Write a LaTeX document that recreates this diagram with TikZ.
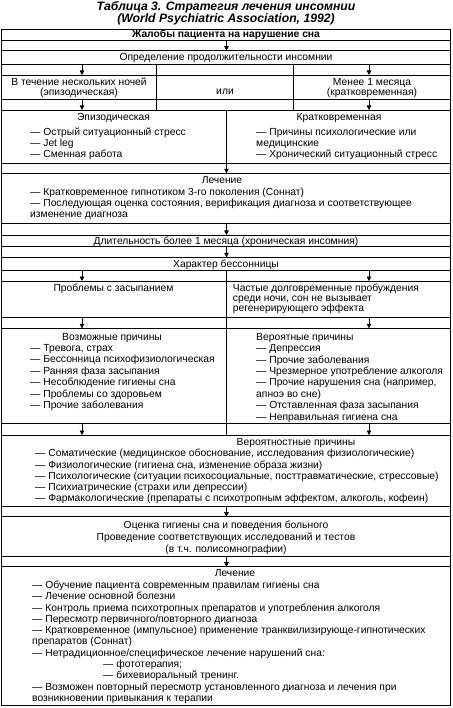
\documentclass[tikz,border=0pt]{standalone}
\usepackage{fontspec}
\setmainfont{Liberation Sans}
\usetikzlibrary{arrows.meta}
\newcommand{\fs}{10.3}
\newcommand{\tf}{\fontsize{\fs}{11.3}\selectfont}
\newcommand{\fr}{\rule{0pt}{8pt}}
\begin{document}
\begin{tikzpicture}[x=1pt,y=-1pt,
  tl/.style={line width=0.8pt,black},
  arr/.style={line width=0.7pt,-{Triangle[length=4.5pt,width=4.5pt]}},
  ct/.style={inner sep=0pt,anchor=base,font=\tf},
  blk/.style={inner sep=0pt,anchor=north west,align=left,font=\tf},
  cblk/.style={inner sep=0pt,anchor=north,align=center,font=\tf}]
\useasboundingbox (0,0) rectangle (452,708);
\fill[white] (0,0) rectangle (452,708);
% title
\node[inner sep=0pt,anchor=base,font=\fontsize{12.2}{13}\selectfont\bfseries\itshape] (title1) at (226,10.8) {Таблица 3. Стратегия лечения инсомнии};
\node[inner sep=0pt,anchor=base,font=\fontsize{12.2}{13}\selectfont\bfseries\itshape] (title2) at (226,22.6) {(World Psychiatric Association, 1992)};
% grid
\foreach \y in {29,40,50.7,64.3,75,99.3,110,163.3,173.3,223.3,235,246.7,257.3,270.7,281,317.7,328.3,423.3,435,506,516.7,556.7,566.7,705}
  \draw[tl] (1.2,\y) -- (450.8,\y);
\draw[tl] (1.2,29) -- (1.2,705);
\draw[tl] (450.8,29) -- (450.8,705);
\draw[tl] (156.7,64.3) -- (156.7,110);
\draw[tl] (293.3,64.3) -- (293.3,110);
\draw[tl] (226.5,110) -- (226.5,163.3);
\draw[tl] (226.5,270.7) -- (226.5,435);
% arrows
\foreach \n/\x/\ya/\yb in {1/226.5/40/50.7, 2/82/64.3/75, 3/369/64.3/75, 4/82/99.3/110, 5/369/99.3/110,
  6/226.5/163.3/173.3, 7/226.5/223.3/235, 8/226.5/246.7/257.3, 9/82/270.7/281, 10/369/270.7/281,
  11/82/317.7/328.3, 12/369/317.7/328.3, 13/82/423.3/435, 14/369/423.3/435,
  15/226.5/506/516.7, 16/226.5/556.7/566.7}
{
  \coordinate (s\n) at (\x,\ya);
  \coordinate (e\n) at (\x,\yb);
  \draw[arr] (s\n) -- (e\n);
}
% texts
\node[ct] (zh) at (226,38) {\bfseries Жалобы пациента на нарушение сна};
\node[ct] (opr) at (226,61) {Определение продолжительности инсомнии};
\node[cblk,font=\fontsize{\fs}{9.7}\selectfont] (vt) at (79,77.2) {\fr В течение нескольких ночей\\(эпизодическая)};
\node[ct] (ili) at (225,94.9) {или};
\node[cblk,font=\fontsize{\fs}{9.7}\selectfont] (men) at (372,77.2) {\fr Менее 1 месяца\\(кратковременная)};
\node[ct] (epi) at (113.5,121) {Эпизодическая};
\node[blk] (epil) at (30,127) {\fr — Острый ситуационный стресс\\— Jet leg\\— Сменная работа};
\node[ct] (krat) at (339,121) {Кратковременная};
\node[blk] (kratl) at (256,127) {\fr — Причины психологические или\\медицинские\\— Хронический ситуационный стресс};
\node[ct] (lech1) at (222,183.4) {Лечение};
\node[blk] (lech1l) at (30,187) {\fr — Кратковременное гипнотиком 3-го поколения (Соннат)\\— Последующая оценка состояния, верификация диагноза и соответствующее\\изменение диагноза};
\node[ct] (dlit) at (226,244.4) {Длительность более 1 месяца (хроническая инсомния)};
\node[ct] (har) at (226,267.4) {Характер бессонницы};
\node[ct] (probl) at (113.5,291) {Проблемы с засыпанием};
\node[blk,font=\fontsize{\fs}{10.2}\selectfont] (chast) at (232.7,283) {\fr Частые долговременные пробуждения\\среди ночи, сон не вызывает\\регенерирующего эффекта};
\node[ct] (vozm) at (112,340.1) {Возможные причины};
\node[blk,font=\fontsize{\fs}{11.45}\selectfont] (vozml) at (30,343.1) {\fr — Тревога, страх\\— Бессонница психофизиологическая\\— Ранняя фаза засыпания\\— Несоблюдение гигиены сна\\— Проблемы со здоровьем\\— Прочие заболевания};
\node[blk,font=\fontsize{\fs}{11.4}\selectfont] (verl) at (256,332.1) {\fr Вероятные причины\\— Депрессия\\— Прочие заболевания\\— Чрезмерное употребление алкоголя\\— Прочие нарушения сна (например,\\апноэ во сне)\\— Отставленная фаза засыпания\\— Неправильная гигиена сна};
\node[ct] (verst) at (296,445.1) {Вероятностные причины};
\node[blk,font=\fontsize{\fs}{11.25}\selectfont] (verstl) at (35,448.7) {\fr — Соматические (медицинское обоснование, исследования физиологические)\\— Физиологические (гигиена сна, изменение образа жизни)\\— Психологические (ситуации психосоциальные, посттравматические, стрессовые)\\— Психиатрические (страхи или депрессии)\\— Фармакологические (препараты с психотропным эффектом, алкоголь, кофеин)};
\node[cblk,font=\fontsize{\fs}{12}\selectfont] (oc) at (226,520.4) {\fr Оценка гигиены сна и поведения больного\\Проведение соответствующих исследований и тестов\\(в т.ч. полисомнографии)};
\node[ct] (lech2) at (235,576.7) {Лечение};
\node[blk,font=\fontsize{\fs}{11.27}\selectfont] (lech2l) at (32,580.4) {\fr — Обучение пациента современным правилам гигиены сна\\— Лечение основной болезни\\— Контроль приема психотропных препаратов и употребления алкоголя\\— Пересмотр первичного/повторного диагноза\\— Кратковременное (импульсное) применение транквилизирующе-гипнотических\\препаратов (Соннат)\\— Нетрадиционное/специфическое лечение нарушений сна:\\\hspace*{71pt}— фототерапия;\\\hspace*{71pt}— бихевиоральный тренинг.\\— Возможен повторный пересмотр установленного диагноза и лечения при\\возникновении привыкания к терапии};
\end{tikzpicture}
\end{document}
